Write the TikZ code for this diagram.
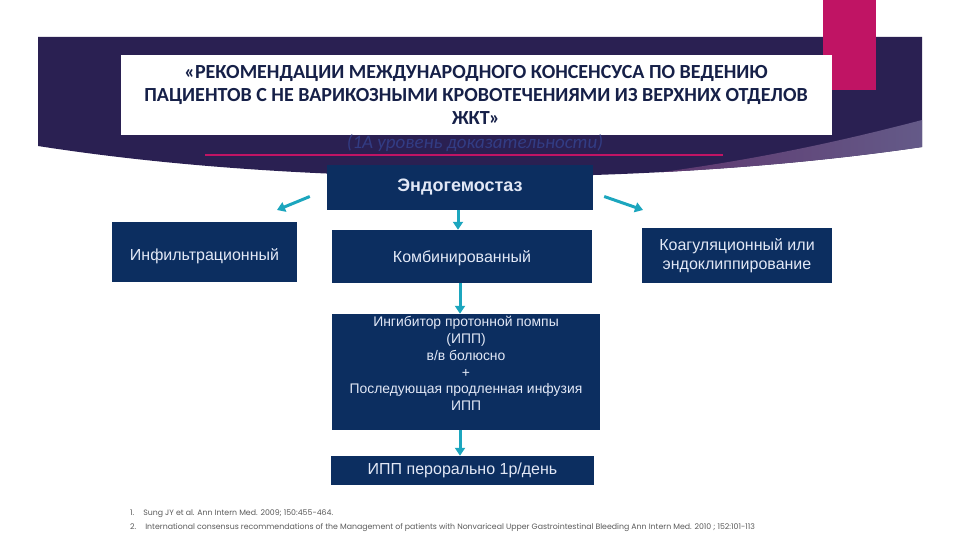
\documentclass[tikz,border=0pt]{standalone}
\usepackage{fontspec}
\setmainfont{Liberation Sans}
\newfontfamily\titlefont{Carlito}
\newfontfamily\notefont{Poppins}
\definecolor{bandnavy}{RGB}{42, 32, 82}
\definecolor{bandplum}{RGB}{92, 40, 100}
\definecolor{bandlilac}{RGB}{100, 90, 136}
\definecolor{accentpink}{RGB}{192, 20, 100}
\definecolor{boxnavy}{RGB}{12, 46, 96}
\definecolor{boxtext}{RGB}{226, 232, 246}
\definecolor{titlenavy}{RGB}{22, 32, 72}
\definecolor{levelblue}{RGB}{50, 60, 132}
\definecolor{arrowteal}{RGB}{28, 166, 190}
\definecolor{notegray}{RGB}{90, 90, 90}
\usetikzlibrary{arrows.meta, positioning}

\begin{document}
\begin{tikzpicture}[x=1pt, y=-1pt,
  stepbox/.style={fill=boxnavy, text=boxtext, align=center, inner sep=0pt, font=\fontsize{16}{19.5}\selectfont},
  flow/.style={arrowteal, line width=3pt, -{Triangle[length=8pt, width=10pt]}}]
  \useasboundingbox (0, 0) rectangle (960, 540);

  % Banner
  \shade[left color=bandnavy, middle color=bandplum, right color=bandnavy]
    (38, 37) -- (922, 37) -- (922, 147) .. controls (650, 187) and (300, 187) .. (38, 146) -- cycle;
  \begin{scope}
    \clip (38, 37) -- (922, 37) -- (922, 147) .. controls (650, 187) and (300, 187) .. (38, 146) -- cycle;
    \shade[left color=bandplum, right color=bandlilac]
      (922, 120) .. controls (800, 152) and (690, 172) .. (540, 186) -- (922, 200) -- cycle;
  \end{scope}
  \fill[accentpink] (823, 0) rectangle (876, 90);

  % Title
  \node[fill=white, minimum width=711pt, minimum height=80pt, inner sep=0pt, anchor=north west] (title) at (121, 55) {};
  \node[font=\titlefont\bfseries\fontsize{20}{23}\selectfont, text=titlenavy, align=center] at (476, 95) {%
    «РЕКОМЕНДАЦИИ МЕЖДУНАРОДНОГО КОНСЕНСУСА ПО ВЕДЕНИЮ\\
    ПАЦИЕНТОВ С НЕ ВАРИКОЗНЫМИ КРОВОТЕЧЕНИЯМИ ИЗ ВЕРХНИХ ОТДЕЛОВ\\
    ЖКТ»};
  \node[font=\titlefont\itshape\fontsize{19}{22}\selectfont, text=levelblue] (level) at (475, 143) {(1А уровень доказательности)};
  \draw[accentpink, line width=2pt] (205, 155) -- (723, 155);

  % Boxes
  \node[stepbox, minimum width=266pt, minimum height=45pt, font=\bfseries\fontsize{18}{21}\selectfont] (endo) at (460, 187.5) {Эндогемостаз};
  \node[stepbox, minimum width=185pt, minimum height=60pt] (infil) at (204.5, 252) {\raisebox{-4pt}[\height][\depth]{Инфильтрационный}};
  \node[stepbox, minimum width=260pt, minimum height=53pt] (comb) at (462, 256.5) {\raisebox{-2pt}[\height][\depth]{Комбинированный}};
  \node[stepbox, minimum width=190pt, minimum height=55pt] (coag) at (737, 255.5) {Коагуляционный или\\эндоклиппирование};
  \node[stepbox, minimum width=268pt, minimum height=116pt, font=\fontsize{13.9}{16.8}\selectfont] (ipp) at (466, 372) {%
    Ингибитор протонной помпы\\(ИПП)\\в/в болюсно\\+\\Последующая продленная инфузия\\ИПП\\\mbox{}};
  \node[stepbox, minimum width=263pt, minimum height=29pt] (oral) at (462.5, 470.5) {ИПП перорально 1р/день};

  % Arrows
  \draw[flow] ([xshift=-17pt, yshift=-9pt]endo.west) -- (277, 210);
  \draw[flow] ([xshift=11pt, yshift=-9pt]endo.east) -- (643, 210);
  \draw[flow] ([xshift=-2pt]endo.south) -- ([xshift=-4pt]comb.north);
  \draw[flow] ([xshift=-2pt]comb.south) -- ([xshift=-6pt]ipp.north);
  \draw[flow] ([xshift=-6pt]ipp.south) -- ([xshift=-2.5pt]oral.north);

  % Footnotes
  \node[font=\notefont\fontsize{7.8}{14}\selectfont, text=notegray, anchor=north west, align=left, inner sep=0pt] (refs) at (130, 510) {%
    1.\hspace{9pt}Sung JY et al. Ann Intern Med. 2009; 150:455-464.\\
    2.\hspace{9pt}International consensus recommendations of the Management of patients with Nonvariceal Upper Gastrointestinal Bleeding Ann Intern Med. 2010 ; 152:101-113};
\end{tikzpicture}
\end{document}
